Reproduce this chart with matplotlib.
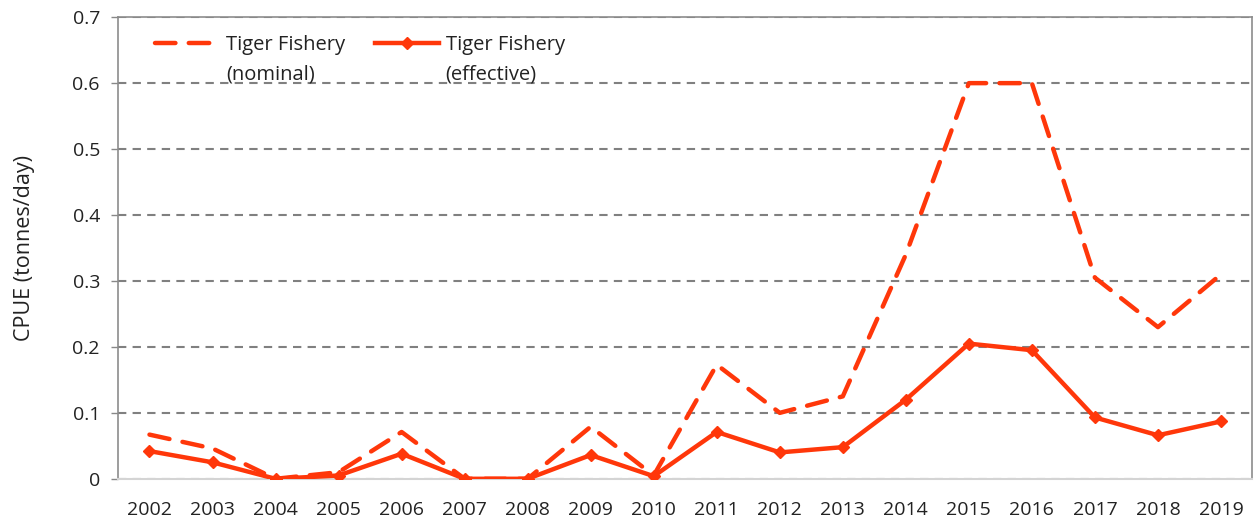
import matplotlib.pyplot as plt

plt.rcParams['font.family'] = ['Open Sans', 'DejaVu Sans']

years = ['2002', '2003', '2004', '2005', '2006', '2007', '2008', '2009', '2010',
         '2011', '2012', '2013', '2014', '2015', '2016', '2017', '2018', '2019']
nominal = [0.067, 0.046, 0.0, 0.01, 0.071, 0.0, 0.0, 0.079, 0.005,
           0.173, 0.10, 0.125, 0.34, 0.60, 0.60, 0.305, 0.23, 0.31]
effective = [0.042, 0.025, 0.0, 0.005, 0.038, 0.0, 0.0, 0.036, 0.004,
             0.071, 0.040, 0.048, 0.12, 0.205, 0.195, 0.093, 0.066, 0.087]
labels_1 = ['Tiger Fishery', 'Tiger Fishery']
labels_2 = ['(nominal)', '(effective)']

red = '#ff370a'
txt = '#222222'
x = list(range(len(years)))

fig = plt.figure(figsize=(12.55, 5.21), dpi=100)
ax = fig.add_axes([0.094, 0.081, 0.904, 0.886])

ax.plot(x, nominal, color=red, lw=3.2, dashes=(4.6, 3.0),
        dash_capstyle='round', label=labels_1[0], zorder=3)
ax.plot(x, effective, color=red, lw=3.2, marker='D', ms=6,
        label=labels_1[1], zorder=4)

ax.set_xlim(-0.5, len(years) - 0.5)
ax.set_ylim(0, 0.7)
ax.set_xticks(x)
ax.set_xticklabels(years)
ax.set_yticks([0, 0.1, 0.2, 0.3, 0.4, 0.5, 0.6, 0.7])
ax.set_yticklabels(['0', '0.1', '0.2', '0.3', '0.4', '0.5', '0.6', '0.7'])
ax.tick_params(axis='x', length=0, pad=16, labelsize=14, colors=txt)
ax.tick_params(axis='y', length=5, width=1, color='#888888', pad=8,
               labelsize=14, labelcolor=txt)

ax.grid(axis='y', color='#808080', lw=1.5, ls=(0, (4, 3)))
ax.set_axisbelow(True)
for s in ['left', 'top', 'right']:
    ax.spines[s].set_color('#8c8c8c')
    ax.spines[s].set_linewidth(1.2)
ax.spines['bottom'].set_color('#d4d4d4')
ax.spines['bottom'].set_linewidth(1.5)

ax.set_ylabel('CPUE (tonnes/day)', fontsize=15.5, color=txt, labelpad=27)

# legend: one row of handles, second text line added underneath
leg = ax.legend(loc='center left', bbox_to_anchor=(0.033, 0.94), ncol=2,
                frameon=False, fontsize=14.5, handlelength=3.15,
                handletextpad=0.35, columnspacing=1.5,
                borderaxespad=0, borderpad=0)
for t in leg.get_texts():
    t.set_color(txt)

fig.canvas.draw()
W, H = fig.bbox.width, fig.bbox.height
for t, second in zip(leg.get_texts(), labels_2):
    bx, by = t.get_transform().transform(t.get_position())
    fig.text(bx / W, (by - 30) / H, second, fontsize=14.5, color=txt,
             ha='left', va='baseline')

fig.savefig('out.png', dpi=100)
